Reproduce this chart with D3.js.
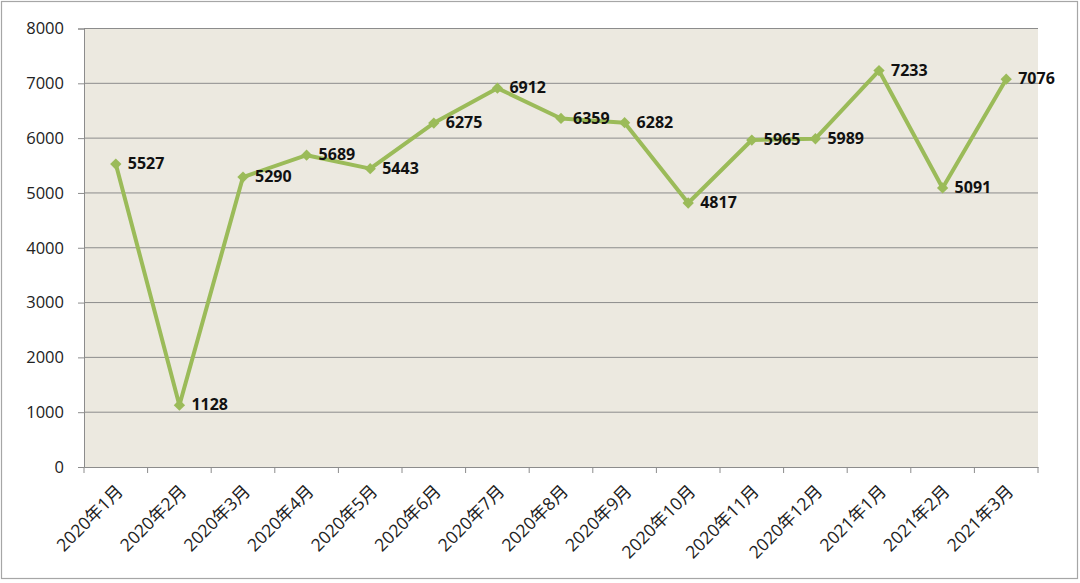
<!DOCTYPE html>
<html><head><meta charset="utf-8">
<script src="https://cdn.jsdelivr.net/npm/d3@7"></script>
<style>html,body{margin:0;padding:0;background:#fff;}svg{display:block;}</style>
</head><body>
<svg id="c" width="1080" height="583"></svg>
<script>
const categories = ["2020年1月","2020年2月","2020年3月","2020年4月","2020年5月","2020年6月","2020年7月","2020年8月","2020年9月","2020年10月","2020年11月","2020年12月","2021年1月","2021年2月","2021年3月"];
const values = [5527,1128,5290,5689,5443,6275,6912,6359,6282,4817,5965,5989,7233,5091,7076];
const yTicks = [0,1000,2000,3000,4000,5000,6000,7000,8000];

const svg = d3.select("#c");
const m = {left:84, right:1038, top:28.5, bottom:467};

svg.append("rect").attr("x",1.5).attr("y",1.5).attr("width",1076).attr("height",577)
  .attr("fill","#fff").attr("stroke","#a6a6a6").attr("stroke-width",1.2);

const x = d3.scaleBand().domain(categories).range([m.left, m.right]).padding(0);
const y = d3.scaleLinear().domain([0,8000]).range([m.bottom, m.top]);

svg.append("rect").attr("x",m.left).attr("y",m.top).attr("width",m.right-m.left).attr("height",m.bottom-m.top)
  .attr("fill","#ECE9E0");

svg.append("g").selectAll("line").data(yTicks.filter(d=>d>0)).join("line")
  .attr("x1",m.left).attr("x2",m.right).attr("y1",d=>y(d)).attr("y2",d=>y(d))
  .attr("stroke","#8c8c8c").attr("stroke-width",1);

const yAxis = svg.append("g").attr("transform",`translate(${m.left},0)`)
  .call(d3.axisLeft(y).tickValues(yTicks).tickSize(6).tickPadding(14).tickFormat(d3.format("d")));
yAxis.select(".domain").attr("stroke","#8c8c8c");
yAxis.selectAll(".tick line").attr("stroke","#8c8c8c");
yAxis.selectAll("text").attr("font-family","'Open Sans', sans-serif").attr("font-size",16.5).attr("fill","#222");

const xAxis = svg.append("g").attr("transform",`translate(0,${m.bottom})`)
  .call(d3.axisBottom(x).tickSize(0).tickFormat(""));
xAxis.select(".domain").attr("stroke","#8c8c8c");
xAxis.selectAll(".tick").remove();
const bounds = categories.map(c=>x(c)).concat([m.right]);
svg.append("g").selectAll("line").data(bounds).join("line")
  .attr("x1",d=>d).attr("x2",d=>d).attr("y1",m.bottom).attr("y2",m.bottom+6)
  .attr("stroke","#8c8c8c");
svg.append("g").selectAll("text").data(categories).join("text")
  .attr("transform",d=>`translate(${x(d)+x.bandwidth()/2+5},${m.bottom+22}) rotate(-45)`)
  .attr("text-anchor","end").attr("dominant-baseline","middle")
  .attr("font-family","'Open Sans', 'Noto Sans CJK SC', sans-serif").attr("font-size",17.5).attr("fill","#222")
  .text(d=>d);

const cx = d => x(d)+x.bandwidth()/2;
const line = d3.line().x((d,i)=>cx(categories[i])).y(d=>y(d));
svg.append("path").datum(values).attr("d",line).attr("fill","none")
  .attr("stroke","#9BBB59").attr("stroke-width",4).attr("stroke-linejoin","round");

svg.append("g").selectAll("path").data(values).join("path")
  .attr("transform",(d,i)=>`translate(${cx(categories[i])},${y(d)}) rotate(45)`)
  .attr("d",d3.symbol(d3.symbolSquare, 64))
  .attr("fill","#9BBB59");

svg.append("g").selectAll("text").data(values).join("text")
  .attr("x",(d,i)=>cx(categories[i])+12).attr("y",d=>y(d)+1)
  .attr("dominant-baseline","middle")
  .attr("font-family","'Open Sans', sans-serif").attr("font-weight","bold").attr("font-size",16).attr("fill","#111")
  .text(d=>d);
</script>
</body></html>
